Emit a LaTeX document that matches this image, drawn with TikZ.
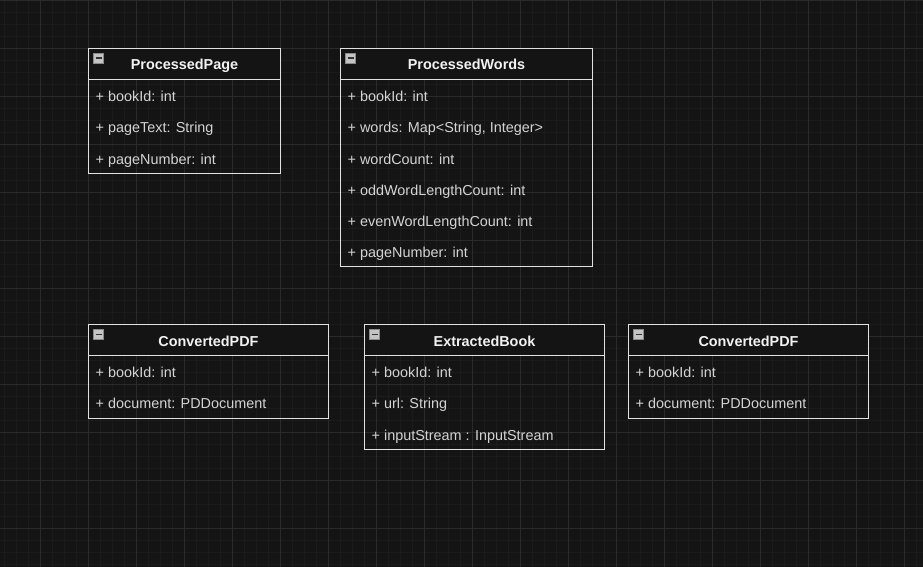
\documentclass[tikz,border=0pt]{standalone}
\usepackage{fontspec}
\setmainfont{Liberation Sans}
\usetikzlibrary{calc}

\definecolor{canvas}{HTML}{141414}
\definecolor{minorgrid}{HTML}{1B1B1B}
\definecolor{majorgrid}{HTML}{2A2A2A}
\definecolor{frameline}{HTML}{E2E2E2}
\definecolor{titletext}{HTML}{F2F2F2}
\definecolor{attrtext}{HTML}{D4D4D4}
\definecolor{iconfill}{HTML}{C4C4C4}
\definecolor{icondraw}{HTML}{8A8A8A}

% class box: name, x, y, width, rows, title, attributes
\newcommand{\umlclass}[7]{%
  \node[classhead, minimum width=#4pt, anchor=north west] (#1) at (#2,#3) {#6};
  \draw[collapse] ($(#1.north west)+(4.8,4.5)$) rectangle ++(10.4,10.4);
  \draw[minus] ($(#1.north west)+(7,9.7)$) -- ++(6,0);
  \foreach \attr [count=\n] in {#7} {
    \node[attr] (#1-\n) at ($(#1.south west)+(7,22+31.2*\n-31.2)$) {\attr};
  }
  \draw[classline] (#1.north west) rectangle ($(#1.south east)+(0,31.2*#5)$);
}

\begin{document}
\begin{tikzpicture}[x=1pt, y=-1pt,
    classhead/.style={draw=frameline, line width=1pt, fill=canvas,
      text=titletext, font=\bfseries\fontsize{14.4}{16}\selectfont,
      text height=12.8pt, text depth=1pt,
      minimum height=31.2pt, inner sep=0pt, outer sep=0pt},
    attr/.style={anchor=base west, inner sep=0pt, text=attrtext,
      font=\fontsize{14.4}{16}\selectfont},
    classline/.style={draw=frameline, line width=1pt},
    collapse/.style={fill=iconfill, draw=icondraw, line width=0.6pt},
    minus/.style={draw=black!80, line width=1.4pt},
  ]

  % Background and grid
  \fill[canvas] (0,0) rectangle (923,567);
  \useasboundingbox (0,0) rectangle (923,567);
  \foreach \gx in {4.5,16.5,...,923} \draw[minorgrid, line width=0.8pt] (\gx,0) -- (\gx,567);
  \foreach \gy in {12,24,...,567} \draw[minorgrid, line width=0.8pt] (0,\gy) -- (923,\gy);
  \foreach \gx in {40.5,88.5,...,923} \draw[majorgrid, line width=0.9pt] (\gx,0) -- (\gx,567);
  \foreach \gy in {0,48,...,567} \draw[majorgrid, line width=0.9pt] (0,\gy) -- (923,\gy);

  % Top row of classes
  \umlclass{pp}{88.5}{48.5}{192}{3}{ProcessedPage}%
    {+ bookId: int, + pageText: String, + pageNumber: int}
  \umlclass{pw}{340.5}{48.5}{252}{6}{ProcessedWords}%
    {+ bookId: int, {+ words: Map<String, Integer>}, + wordCount: int,
     + oddWordLengthCount: int, + evenWordLengthCount: int, + pageNumber: int}

  % Bottom row of classes
  \umlclass{cpdfa}{88.5}{324.5}{240}{2}{ConvertedPDF}%
    {+ bookId: int, + document: PDDocument}
  \umlclass{eb}{364.5}{324.5}{240}{3}{ExtractedBook}%
    {+ bookId: int, + url: String, + inputStream : InputStream}
  \umlclass{cpdfb}{628.5}{324.5}{240}{2}{ConvertedPDF}%
    {+ bookId: int, + document: PDDocument}
\end{tikzpicture}
\end{document}
